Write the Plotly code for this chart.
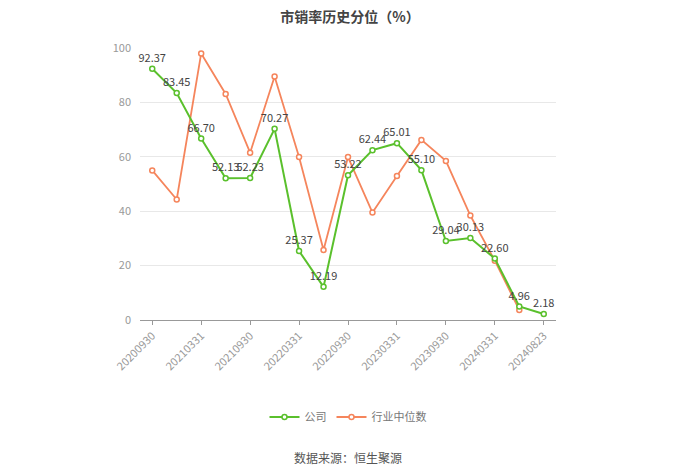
import plotly.graph_objects as go

dates = ["20200930", "20201231", "20210331", "20210630", "20210930", "20211231",
         "20220331", "20220630", "20220930", "20221231", "20230331", "20230630",
         "20230930", "20231231", "20240331", "20240630", "20240823"]
company = [92.37, 83.45, 66.70, 52.13, 52.23, 70.27, 25.37, 12.19, 53.22, 62.44,
           65.01, 55.10, 29.04, 30.13, 22.60, 4.96, 2.18]
industry = [55.0, 44.3, 98.0, 83.1, 61.5, 89.5, 59.9, 25.7, 59.9, 39.5, 52.9, 66.2,
            58.5, 38.4, 21.8, 3.7, None]
tick_idx = list(range(0, 17, 2))
tick_labels = [dates[i] for i in tick_idx]
y_ticks = [0, 20, 40, 60, 80, 100]

xs = list(range(len(dates)))
green = "#5ac02c"
orange = "#f5855c"

fig = go.Figure()
fig.add_trace(go.Scatter(
    x=xs, y=industry, name="行业中位数", mode="lines+markers",
    line=dict(color=orange, width=1.8),
    marker=dict(symbol="circle", size=5, color="white", line=dict(color=orange, width=1.5)),
))
fig.add_trace(go.Scatter(
    x=xs, y=company, name="公司", mode="lines+markers+text", cliponaxis=False,
    line=dict(color=green, width=2),
    marker=dict(symbol="circle", size=5, color="white", line=dict(color=green, width=1.5)),
    text=[f"{v:.2f}" for v in company], textposition="top center",
    textfont=dict(size=11, color="#444", family="Noto Sans CJK SC"),
))

fig.update_layout(
    width=700, height=474,
    margin=dict(l=140, r=144, t=48, b=154),
    plot_bgcolor="white", paper_bgcolor="white",
    font=dict(family="Noto Sans CJK SC", color="#666"),
    title=dict(text="<b>市销率历史分位（%）</b>", x=0.5, xanchor="center", y=0.975, yanchor="top",
               font=dict(size=14, color="#444", family="Noto Sans CJK SC")),
    showlegend=True,
    legend=dict(orientation="h", x=0.5, xanchor="center", y=-(417 - 320) / 272, yanchor="middle",
                font=dict(size=11, color="#777"), traceorder="reversed",
                itemwidth=30),
    xaxis=dict(range=[-0.5, 16.5], tickmode="array", tickvals=tick_idx, ticktext=tick_labels,
               tickangle=-45, showgrid=False, zeroline=False, showline=True,
               linecolor="#999999", linewidth=1, ticks="outside", ticklen=4, tickcolor="#999999",
               tickfont=dict(size=11, color="#999999")),
    yaxis=dict(range=[0, 100], tickmode="array", tickvals=y_ticks, showgrid=True,
               gridcolor="#e8e8e8", zeroline=False, showline=False, ticks="",
               tickfont=dict(size=11, color="#999999"), ticklabelstandoff=8),
)
fig.add_annotation(text="数据来源：恒生聚源", x=0.5, xref="paper", y=-(457 - 320) / 272,
                   yref="paper", yanchor="middle",
                   showarrow=False, font=dict(size=12, color="#555"))

fig.write_html("out.html")
